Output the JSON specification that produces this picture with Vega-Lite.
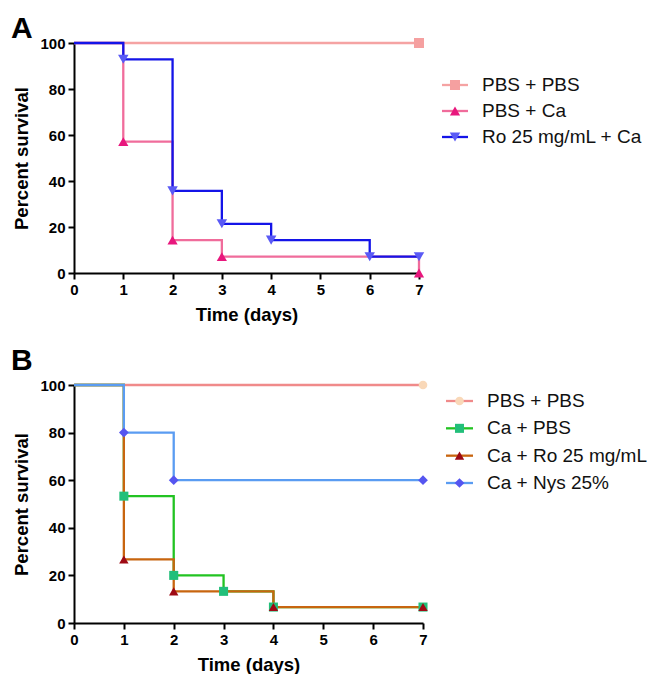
{
  "$schema": "https://vega.github.io/schema/vega-lite/v6.json",
  "background": "white",
  "padding": {"left": 10, "top": 14, "right": 0, "bottom": 0},
  "config": {
    "font": "Liberation Sans",
    "view": {"stroke": null},
    "axis": {
      "domainColor": "black", "domainWidth": 2,
      "tickColor": "black", "tickWidth": 2, "tickSize": 6,
      "labelFont": "Liberation Sans", "labelFontSize": 15, "labelFontWeight": "bold", "labelColor": "black",
      "labelPadding": 3, "labelFlush": false,
      "titleFont": "Liberation Sans", "titleFontSize": 18.5, "titleFontWeight": "bold", "titleColor": "black",
      "titlePadding": 8, "grid": false
    }
  },
  "datasets": {
    "a": [
      {"series": "PBS + PBS", "day": 0, "pct": 100},
      {"series": "PBS + PBS", "day": 7, "pct": 100},
      {"series": "PBS + Ca", "day": 0, "pct": 100},
      {"series": "PBS + Ca", "day": 1, "pct": 57.1},
      {"series": "PBS + Ca", "day": 2, "pct": 14.3},
      {"series": "PBS + Ca", "day": 3, "pct": 7.1},
      {"series": "PBS + Ca", "day": 7, "pct": 0},
      {"series": "Ro 25 mg/mL + Ca", "day": 0, "pct": 100},
      {"series": "Ro 25 mg/mL + Ca", "day": 1, "pct": 92.9},
      {"series": "Ro 25 mg/mL + Ca", "day": 2, "pct": 35.7},
      {"series": "Ro 25 mg/mL + Ca", "day": 3, "pct": 21.4},
      {"series": "Ro 25 mg/mL + Ca", "day": 4, "pct": 14.3},
      {"series": "Ro 25 mg/mL + Ca", "day": 6, "pct": 7.1},
      {"series": "Ro 25 mg/mL + Ca", "day": 7, "pct": 7.1}
    ],
    "b": [
      {"series": "PBS + PBS", "day": 0, "pct": 100},
      {"series": "PBS + PBS", "day": 7, "pct": 100},
      {"series": "Ca + PBS", "day": 0, "pct": 100},
      {"series": "Ca + PBS", "day": 1, "pct": 53.3},
      {"series": "Ca + PBS", "day": 2, "pct": 20},
      {"series": "Ca + PBS", "day": 3, "pct": 13.3},
      {"series": "Ca + PBS", "day": 4, "pct": 6.7},
      {"series": "Ca + PBS", "day": 7, "pct": 6.7},
      {"series": "Ca + Ro 25 mg/mL", "day": 0, "pct": 100},
      {"series": "Ca + Ro 25 mg/mL", "day": 1, "pct": 26.7},
      {"series": "Ca + Ro 25 mg/mL", "day": 2, "pct": 13.3},
      {"series": "Ca + Ro 25 mg/mL", "day": 4, "pct": 6.7},
      {"series": "Ca + Ro 25 mg/mL", "day": 7, "pct": 6.7},
      {"series": "Ca + Nys 25%", "day": 0, "pct": 100},
      {"series": "Ca + Nys 25%", "day": 1, "pct": 80},
      {"series": "Ca + Nys 25%", "day": 2, "pct": 60},
      {"series": "Ca + Nys 25%", "day": 7, "pct": 60}
    ],
    "legA": [
      {"series": "PBS + PBS"},
      {"series": "PBS + Ca"},
      {"series": "Ro 25 mg/mL + Ca"}
    ],
    "legB": [
      {"series": "PBS + PBS"},
      {"series": "Ca + PBS"},
      {"series": "Ca + Ro 25 mg/mL"},
      {"series": "Ca + Nys 25%"}
    ]
  },
  "resolve": {"scale": {"stroke": "independent", "fill": "independent", "shape": "independent", "size": "independent", "x": "independent", "y": "independent"}},
  "spacing": 22,
  "vconcat": [
    {
      "title": {"text": "A", "anchor": "start", "fontSize": 30, "fontWeight": "bold", "color": "black", "offset": -8, "dx": -2},
      "bounds": "flush",
      "spacing": 23,
      "resolve": {"scale": {"stroke": "independent", "fill": "independent", "shape": "independent", "size": "independent", "x": "independent", "y": "independent"}},
      "hconcat": [
        {
          "width": 345, "height": 230,
          "data": {"name": "a"},
          "encoding": {
            "x": {"field": "day", "type": "quantitative", "scale": {"domain": [0, 7]}, "axis": {"values": [0,1,2,3,4,5,6,7], "title": "Time (days)"}},
            "y": {"field": "pct", "type": "quantitative", "scale": {"domain": [0, 100]}, "axis": {"values": [0,20,40,60,80,100], "title": "Percent survival"}}
          },
          "layer": [
            {
              "mark": {"type": "line", "interpolate": "step-after", "strokeWidth": 2.3},
              "encoding": {
                "stroke": {"field": "series", "type": "nominal", "scale": {"domain": ["PBS + PBS", "PBS + Ca", "Ro 25 mg/mL + Ca"], "range": ["#F5A3A3", "#F06C9B", "#1414E8"]}, "legend": null}
              }
            },
            {
              "transform": [{"filter": "datum.day > 0"}],
              "mark": {"type": "point", "filled": true, "opacity": 1, "strokeWidth": 0},
              "encoding": {
                "fill": {"field": "series", "type": "nominal", "scale": {"domain": ["PBS + PBS", "PBS + Ca", "Ro 25 mg/mL + Ca"], "range": ["#F5A0A0", "#E8177D", "#5A5AF5"]}, "legend": null},
                "shape": {"field": "series", "type": "nominal", "scale": {"domain": ["PBS + PBS", "PBS + Ca", "Ro 25 mg/mL + Ca"], "range": ["square", "triangle-up", "triangle-down"]}, "legend": null},
                "size": {"field": "series", "type": "nominal", "scale": {"domain": ["PBS + PBS", "PBS + Ca", "Ro 25 mg/mL + Ca"], "range": [100, 110, 110]}, "legend": null}
              }
            }
          ]
        },
        {
          "width": 200, "height": 230,
          "data": {"name": "legA"},
          "encoding": {
            "y": {"field": "series", "type": "nominal", "scale": {"type": "point", "padding": 0, "domain": ["PBS + PBS", "PBS + Ca", "Ro 25 mg/mL + Ca"], "range": [42, 94]}, "axis": null}
          },
          "layer": [
            {
              "mark": {"type": "rule", "strokeWidth": 2.3},
              "encoding": {
                "x": {"datum": 0, "type": "quantitative", "scale": {"domain": [0, 200]}, "axis": null},
                "x2": {"datum": 26},
                "stroke": {"field": "series", "type": "nominal", "scale": {"domain": ["PBS + PBS", "PBS + Ca", "Ro 25 mg/mL + Ca"], "range": ["#F5A3A3", "#F06C9B", "#1414E8"]}, "legend": null}
              }
            },
            {
              "mark": {"type": "point", "filled": true, "opacity": 1, "strokeWidth": 0},
              "encoding": {
                "x": {"datum": 13, "type": "quantitative"},
                "fill": {"field": "series", "type": "nominal", "scale": {"domain": ["PBS + PBS", "PBS + Ca", "Ro 25 mg/mL + Ca"], "range": ["#F5A0A0", "#E8177D", "#5A5AF5"]}, "legend": null},
                "shape": {"field": "series", "type": "nominal", "scale": {"domain": ["PBS + PBS", "PBS + Ca", "Ro 25 mg/mL + Ca"], "range": ["square", "triangle-up", "triangle-down"]}, "legend": null},
                "size": {"field": "series", "type": "nominal", "scale": {"domain": ["PBS + PBS", "PBS + Ca", "Ro 25 mg/mL + Ca"], "range": [100, 110, 110]}, "legend": null}
              }
            },
            {
              "mark": {"type": "text", "align": "left", "baseline": "middle", "fontSize": 19, "color": "#111", "font": "Liberation Sans"},
              "encoding": {
                "x": {"datum": 40, "type": "quantitative"},
                "text": {"field": "series"}
              }
            }
          ]
        }
      ]
    },
    {
      "title": {"text": "B", "anchor": "start", "fontSize": 30, "fontWeight": "bold", "color": "black", "offset": 2, "dx": -2},
      "bounds": "flush",
      "spacing": 23,
      "resolve": {"scale": {"stroke": "independent", "fill": "independent", "shape": "independent", "size": "independent", "x": "independent", "y": "independent"}},
      "hconcat": [
        {
          "width": 349, "height": 238,
          "data": {"name": "b"},
          "encoding": {
            "x": {"field": "day", "type": "quantitative", "scale": {"domain": [0, 7]}, "axis": {"values": [0,1,2,3,4,5,6,7], "title": "Time (days)"}},
            "y": {"field": "pct", "type": "quantitative", "scale": {"domain": [0, 100]}, "axis": {"values": [0,20,40,60,80,100], "title": "Percent survival"}}
          },
          "layer": [
            {
              "mark": {"type": "line", "interpolate": "step-after", "strokeWidth": 2.3},
              "encoding": {
                "stroke": {"field": "series", "type": "nominal", "scale": {"domain": ["PBS + PBS", "Ca + PBS", "Ca + Ro 25 mg/mL", "Ca + Nys 25%"], "range": ["#F08A8A", "#22C322", "#C8650F", "#5A9CF2"]}, "legend": null}
              }
            },
            {
              "transform": [{"filter": "datum.day > 0"}],
              "mark": {"type": "point", "filled": true, "opacity": 1, "strokeWidth": 0},
              "encoding": {
                "fill": {"field": "series", "type": "nominal", "scale": {"domain": ["PBS + PBS", "Ca + PBS", "Ca + Ro 25 mg/mL", "Ca + Nys 25%"], "range": ["#F9D8B8", "#22BF7A", "#9E0A14", "#5555F0"]}, "legend": null},
                "shape": {"field": "series", "type": "nominal", "scale": {"domain": ["PBS + PBS", "Ca + PBS", "Ca + Ro 25 mg/mL", "Ca + Nys 25%"], "range": ["circle", "square", "triangle-up", "diamond"]}, "legend": null},
                "size": {"field": "series", "type": "nominal", "scale": {"domain": ["PBS + PBS", "Ca + PBS", "Ca + Ro 25 mg/mL", "Ca + Nys 25%"], "range": [75, 95, 110, 130]}, "legend": null}
              }
            }
          ]
        },
        {
          "width": 200, "height": 238,
          "data": {"name": "legB"},
          "encoding": {
            "y": {"field": "series", "type": "nominal", "scale": {"type": "point", "padding": 0, "domain": ["PBS + PBS", "Ca + PBS", "Ca + Ro 25 mg/mL", "Ca + Nys 25%"], "range": [16, 98]}, "axis": null}
          },
          "layer": [
            {
              "mark": {"type": "rule", "strokeWidth": 2.3},
              "encoding": {
                "x": {"datum": 0, "type": "quantitative", "scale": {"domain": [0, 200]}, "axis": null},
                "x2": {"datum": 27},
                "stroke": {"field": "series", "type": "nominal", "scale": {"domain": ["PBS + PBS", "Ca + PBS", "Ca + Ro 25 mg/mL", "Ca + Nys 25%"], "range": ["#F08A8A", "#22C322", "#C8650F", "#5A9CF2"]}, "legend": null}
              }
            },
            {
              "mark": {"type": "point", "filled": true, "opacity": 1, "strokeWidth": 0},
              "encoding": {
                "x": {"datum": 13.5, "type": "quantitative"},
                "fill": {"field": "series", "type": "nominal", "scale": {"domain": ["PBS + PBS", "Ca + PBS", "Ca + Ro 25 mg/mL", "Ca + Nys 25%"], "range": ["#F9D8B8", "#22BF7A", "#9E0A14", "#5555F0"]}, "legend": null},
                "shape": {"field": "series", "type": "nominal", "scale": {"domain": ["PBS + PBS", "Ca + PBS", "Ca + Ro 25 mg/mL", "Ca + Nys 25%"], "range": ["circle", "square", "triangle-up", "diamond"]}, "legend": null},
                "size": {"field": "series", "type": "nominal", "scale": {"domain": ["PBS + PBS", "Ca + PBS", "Ca + Ro 25 mg/mL", "Ca + Nys 25%"], "range": [75, 95, 110, 130]}, "legend": null}
              }
            },
            {
              "mark": {"type": "text", "align": "left", "baseline": "middle", "fontSize": 19, "color": "#111", "font": "Liberation Sans"},
              "encoding": {
                "x": {"datum": 41, "type": "quantitative"},
                "text": {"field": "series"}
              }
            }
          ]
        }
      ]
    }
  ]
}
